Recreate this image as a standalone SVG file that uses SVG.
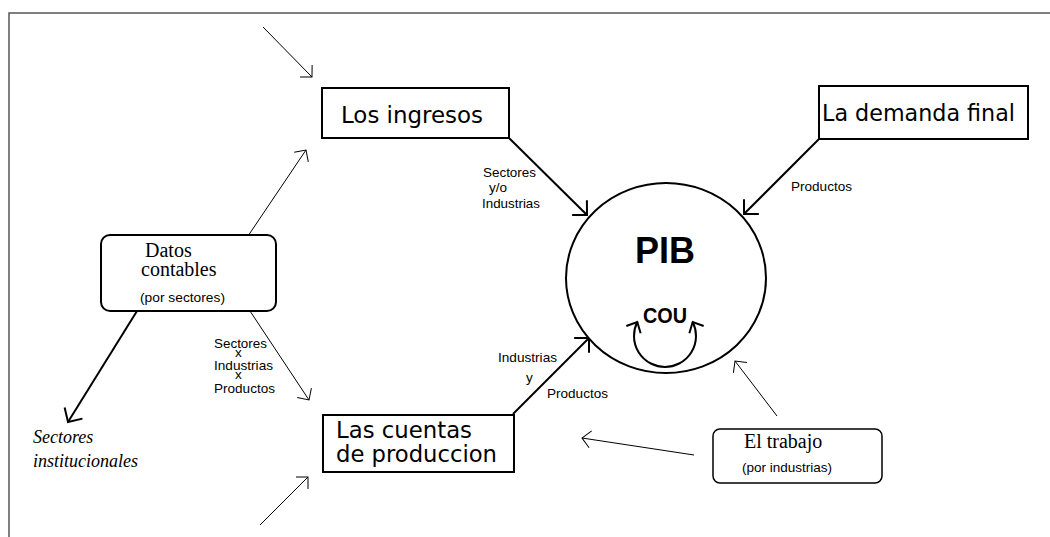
<svg xmlns="http://www.w3.org/2000/svg" width="1050" height="537" viewBox="0 0 1050 537">
<style>
.frame{fill:none;stroke:#555;stroke-width:1.5}
.box{fill:#fff;stroke:#000;stroke-width:2}
.rbox{fill:#fff;stroke:#000;stroke-width:2}
.comic{font-family:"DejaVu Sans",sans-serif;font-size:23px;fill:#000}
.serif{font-family:"Liberation Serif","Times New Roman",serif;font-size:20px;fill:#000}
.lab{font-family:"Liberation Sans",Arial,sans-serif;font-size:13.5px;fill:#000}
.thin{fill:none;stroke:#000;stroke-width:1;marker-end:url(#aThin)}
.thick{fill:none;stroke:#000;stroke-width:2;marker-end:url(#aThick)}
</style>
<defs>
<marker id="aThin" markerUnits="userSpaceOnUse" orient="auto" refX="0" refY="0" markerWidth="20" markerHeight="20" overflow="visible">
<path d="M-8.5,-8.5 L0,0 L-8.5,8.5" fill="none" stroke="#000" stroke-width="1"/>
</marker>
<marker id="aThick" markerUnits="userSpaceOnUse" orient="auto" refX="0" refY="0" markerWidth="20" markerHeight="20" overflow="visible">
<path d="M-10.5,-10.5 L0,0 L-10.5,10.5" fill="none" stroke="#000" stroke-width="2"/>
</marker>
<marker id="aLoop" markerUnits="userSpaceOnUse" orient="auto-start-reverse" refX="0" refY="0" markerWidth="20" markerHeight="20" overflow="visible">
<path d="M-8.5,-8 L0,0 L-8.5,8" fill="none" stroke="#000" stroke-width="2"/>
</marker>
</defs>

<path class="frame" d="M9,537 L9,13 L1050,13"/>

<g id="connectors">
<line class="thin" x1="263" y1="27" x2="312" y2="77"/>
<line class="thin" x1="248" y1="236" x2="306" y2="150"/>
<line class="thick" x1="509" y1="138" x2="587" y2="215"/>
<line class="thick" x1="819" y1="139" x2="744" y2="214"/>
<line class="thick" x1="137" y1="311" x2="68" y2="422"/>
<line class="thin" x1="250" y1="311" x2="309" y2="400"/>
<line class="thick" x1="513" y1="414" x2="589" y2="338"/>
<line class="thin" x1="260" y1="525" x2="308" y2="477"/>
<line class="thin" x1="777" y1="416" x2="735" y2="361"/>
<line class="thin" x1="694" y1="455" x2="582" y2="438"/>
<g id="lab-ingresos">
<text class="lab" x="483" y="177" textLength="53" lengthAdjust="spacingAndGlyphs">Sectores</text>
<text class="lab" x="489" y="192">y/o</text>
<text class="lab" x="482" y="208" textLength="58" lengthAdjust="spacingAndGlyphs">Industrias</text>
</g>
<text class="lab" x="791" y="191" textLength="61" lengthAdjust="spacingAndGlyphs">Productos</text>
<g id="lab-cuentas">
<text class="lab" x="214" y="348" textLength="53" lengthAdjust="spacingAndGlyphs">Sectores</text>
<text class="lab" x="235" y="357">x</text>
<text class="lab" x="214" y="370" textLength="59" lengthAdjust="spacingAndGlyphs">Industrias</text>
<text class="lab" x="235" y="379">x</text>
<text class="lab" x="214" y="393" textLength="61" lengthAdjust="spacingAndGlyphs">Productos</text>
</g>
<g id="lab-pib">
<text class="lab" x="498" y="362" textLength="59" lengthAdjust="spacingAndGlyphs">Industrias</text>
<text class="lab" x="526" y="382">y</text>
<text class="lab" x="547" y="398" textLength="61" lengthAdjust="spacingAndGlyphs">Productos</text>
</g>
</g>

<g id="ingresos">
<rect class="box" x="322" y="88" width="187" height="50"/>
<text class="comic" x="341" y="123" textLength="142" lengthAdjust="spacingAndGlyphs">Los ingresos</text>
</g>

<g id="demanda">
<rect class="box" x="819" y="86" width="209" height="53"/>
<text class="comic" x="822" y="121" textLength="193" lengthAdjust="spacingAndGlyphs">La demanda final</text>
</g>

<g id="pib">
<ellipse cx="666" cy="278" rx="100" ry="95" fill="#fff" stroke="#000" stroke-width="2"/>
<text x="635" y="263" font-family="Liberation Sans, Arial, sans-serif" font-weight="bold" font-size="36" textLength="60" lengthAdjust="spacingAndGlyphs">PIB</text>
<text x="643" y="323" font-family="Liberation Sans, Arial, sans-serif" font-weight="bold" font-size="22" textLength="44" lengthAdjust="spacingAndGlyphs">COU</text>
<path d="M637.3,322 A31,31 0 1 0 692.7,322" fill="none" stroke="#000" stroke-width="2" marker-start="url(#aLoop)" marker-end="url(#aLoop)"/>
</g>

<g id="datos">
<rect class="rbox" x="101" y="235" width="175" height="76" rx="9" ry="9"/>
<text class="serif" x="145" y="257">Datos</text>
<text class="serif" x="141" y="276">contables</text>
<text class="lab" x="140" y="302" font-size="14" textLength="85" lengthAdjust="spacingAndGlyphs">(por sectores)</text>
</g>

<g id="institucionales">
<text x="33" y="443" font-family="Liberation Serif, Times New Roman, serif" font-style="italic" font-size="18">Sectores</text>
<text x="33" y="467" font-family="Liberation Serif, Times New Roman, serif" font-style="italic" font-size="18">institucionales</text>
</g>

<g id="cuentas">
<rect class="box" x="323" y="415" width="191" height="57"/>
<text class="comic" x="336" y="438" textLength="136" lengthAdjust="spacingAndGlyphs">Las cuentas</text>
<text class="comic" x="336" y="462" textLength="161" lengthAdjust="spacingAndGlyphs">de produccion</text>
</g>

<g id="trabajo">
<rect class="rbox" x="713" y="429" width="169" height="54" rx="7" ry="7" style="stroke-width:1.5"/>
<text class="serif" x="744" y="448">El trabajo</text>
<text class="lab" x="742" y="472" font-size="14" textLength="90" lengthAdjust="spacingAndGlyphs">(por industrias)</text>
</g>
</svg>
